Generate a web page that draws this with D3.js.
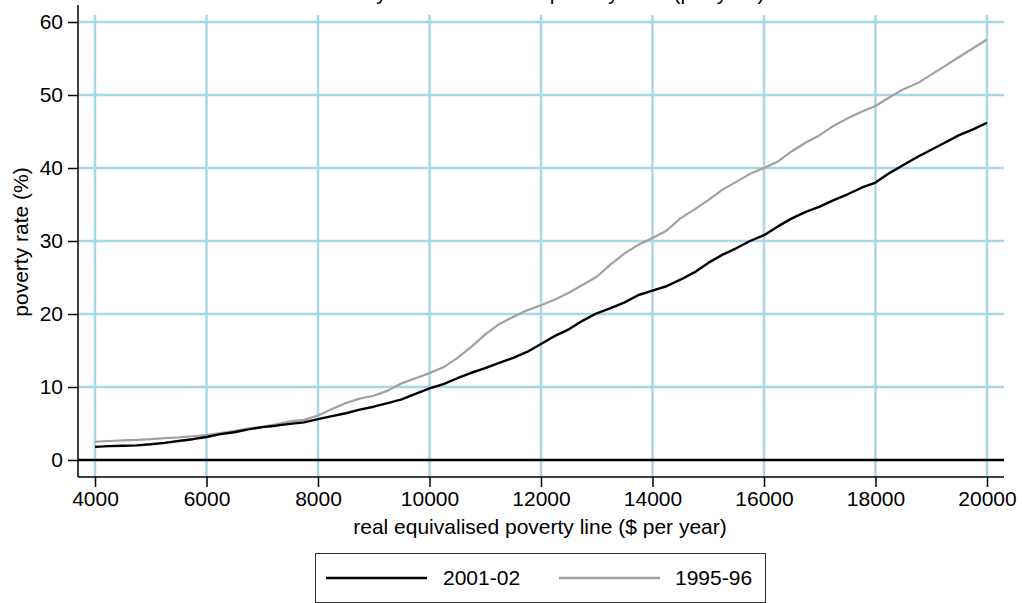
<!DOCTYPE html>
<html><head><meta charset="utf-8">
<script src="https://cdn.jsdelivr.net/npm/d3@7"></script>
<style>
body{margin:0;background:#fff;}
svg{display:block;font-family:"Liberation Sans",Arial,sans-serif;}
</style></head>
<body>
<svg id="chart" width="1022" height="603"></svg>
<script>
const povertyLine = [4000,4250,4500,4750,5000,5250,5500,5750,6000,6250,6500,6750,7000,7250,7500,7750,8000,8250,8500,8750,9000,9250,9500,9750,10000,10250,10500,10750,11000,11250,11500,11750,12000,12250,12500,12750,13000,13250,13500,13750,14000,14250,14500,14750,15000,15250,15500,15750,16000,16250,16500,16750,17000,17250,17500,17750,18000,18250,18500,18750,19000,19250,19500,19750,20000];
const rate2001 = [1.8,1.9,1.95,2.0,2.15,2.35,2.6,2.85,3.15,3.55,3.8,4.2,4.5,4.7,4.95,5.15,5.6,6.0,6.4,6.9,7.3,7.8,8.3,9.05,9.8,10.4,11.2,11.95,12.6,13.3,14.0,14.8,15.9,17.0,17.9,19.1,20.1,20.8,21.6,22.6,23.2,23.8,24.7,25.7,27.0,28.1,29.0,30.0,30.8,32.0,33.1,34.0,34.7,35.6,36.4,37.3,38.0,39.3,40.4,41.5,42.5,43.5,44.5,45.3,46.2];
const rate1995 = [2.5,2.6,2.7,2.75,2.85,3.0,3.1,3.25,3.4,3.7,4.0,4.3,4.55,4.9,5.3,5.5,6.1,7.0,7.8,8.4,8.8,9.5,10.5,11.2,11.9,12.7,14.0,15.5,17.2,18.6,19.6,20.5,21.2,22.0,22.9,24.0,25.1,26.8,28.3,29.5,30.4,31.4,33.1,34.3,35.6,37.0,38.1,39.2,40.0,40.9,42.3,43.5,44.5,45.8,46.8,47.7,48.5,49.7,50.8,51.6,52.8,54.0,55.2,56.4,57.6];
const xTicks = [4000,6000,8000,10000,12000,14000,16000,18000,20000];
const yTicks = [0,10,20,30,40,50,60];
const seriesNames = ["2001-02","1995-96"];
const seriesColors = ["#000000","#a0a0a0"];
const titleText = "Poverty rates at different poverty lines (per year)";
const xTitle = "real equivalised poverty line ($ per year)";
const yTitle = "poverty rate (%)";

const svg = d3.select("#chart");
const L = 78, R = 1004, T = 5, B = 477;
const x = d3.scaleLinear().domain([3695, 20305]).range([L, R]);
const y = d3.scaleLinear().domain([-2.33, 62.33]).range([B, T]);
const grid = "#a9d8e5";
const FS = 21;

// title (mostly cut off at top, as in the reference)
svg.append("text").attr("x", 540).attr("y", 0).attr("text-anchor","middle")
  .attr("font-size", FS).attr("fill","#000").text(titleText);

// vertical gridlines
svg.append("g").selectAll("line").data(xTicks).join("line")
  .attr("x1", d=>x(d)).attr("x2", d=>x(d)).attr("y1", T+10).attr("y2", B)
  .attr("stroke", grid).attr("stroke-width", 2.5);
// horizontal gridlines
svg.append("g").selectAll("line").data(yTicks.filter(d=>d!==0)).join("line")
  .attr("x1", L).attr("x2", R).attr("y1", d=>y(d)).attr("y2", d=>y(d))
  .attr("stroke", grid).attr("stroke-width", 2.5);
// zero line
svg.append("line").attr("x1", L).attr("x2", R).attr("y1", y(0)).attr("y2", y(0))
  .attr("stroke", "#000").attr("stroke-width", 2.5);

// axes
const yAxis = d3.axisLeft(y).tickValues(yTicks).tickSize(10).tickPadding(5);
const gy = svg.append("g").attr("transform",`translate(${L},0)`).call(yAxis);
gy.select(".domain").attr("d", `M0,${T}V${B}`).attr("stroke","#000").attr("stroke-width",1.5);
gy.selectAll(".tick line").attr("stroke","#000").attr("stroke-width",1.5);
gy.selectAll(".tick text").attr("font-size",FS).attr("fill","#000").attr("font-family","Liberation Sans, Arial, sans-serif");

const xAxis = d3.axisBottom(x).tickValues(xTicks).tickFormat(d3.format("d")).tickSize(10).tickPadding(4);
const gx = svg.append("g").attr("transform",`translate(0,${B})`).call(xAxis);
gx.select(".domain").attr("d", `M${L},0H${R}`).attr("stroke","#000").attr("stroke-width",1.5);
gx.selectAll(".tick line").attr("stroke","#000").attr("stroke-width",1.5);
gx.selectAll(".tick text").attr("font-size",FS).attr("fill","#000").attr("font-family","Liberation Sans, Arial, sans-serif");

// axis titles
svg.append("text").attr("x", 540).attr("y", 534).attr("text-anchor","middle")
  .attr("font-size",FS).attr("fill","#000").text(xTitle);
svg.append("text").attr("transform","translate(28,242) rotate(-90)").attr("text-anchor","middle")
  .attr("font-size",FS).attr("fill","#000").text(yTitle);

// lines
const line = d3.line().x(d=>x(d[0])).y(d=>y(d[1]));
const data1995 = povertyLine.map((v,i)=>[v, rate1995[i]]);
const data2001 = povertyLine.map((v,i)=>[v, rate2001[i]]);
svg.append("path").datum(data1995).attr("d", line).attr("fill","none")
  .attr("stroke", seriesColors[1]).attr("stroke-width", 2.2).attr("stroke-linejoin","round");
svg.append("path").datum(data2001).attr("d", line).attr("fill","none")
  .attr("stroke", seriesColors[0]).attr("stroke-width", 2.4).attr("stroke-linejoin","round");

// legend
const lg = svg.append("g");
lg.append("rect").attr("x",315.5).attr("y",553.5).attr("width",450).attr("height",49)
  .attr("fill","#fff").attr("stroke","#333").attr("stroke-width",1);
const items = [{x0:326,x1:427,tx:443},{x0:559,x1:660,tx:675}];
items.forEach((it,i)=>{
  lg.append("line").attr("x1",it.x0).attr("x2",it.x1).attr("y1",578).attr("y2",578)
    .attr("stroke",seriesColors[i]).attr("stroke-width",2.4);
  lg.append("text").attr("x",it.tx).attr("y",585).attr("font-size",FS).attr("fill","#000").text(seriesNames[i]);
});
</script>
</body></html>
